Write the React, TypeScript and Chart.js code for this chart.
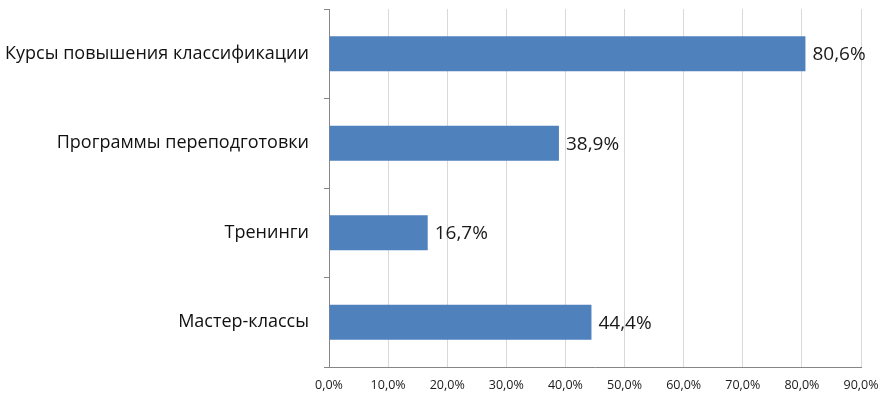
import React, { useEffect, useRef } from "react";
import { Chart, registerables } from "chart.js";

Chart.register(...registerables);

const categories = [
  "Курсы повышения классификации",
  "Программы переподготовки",
  "Тренинги",
  "Мастер-классы",
];
const values = [80.6, 38.9, 16.7, 44.4];
const xTicks = [0, 10, 20, 30, 40, 50, 60, 70, 80, 90];

const fmt = (v: number) => v.toFixed(1).replace(".", ",") + "%";

const FONT = "'Open Sans', 'Noto Sans', sans-serif";

const labelPlugin = {
  id: "barValueLabels",
  afterDatasetsDraw(chart: any) {
    const ctx = chart.ctx;
    const meta = chart.getDatasetMeta(0);
    ctx.save();
    ctx.font = `19px ${FONT}`;
    ctx.fillStyle = "#1a1a1a";
    ctx.textAlign = "left";
    ctx.textBaseline = "middle";
    meta.data.forEach((bar: any, i: number) => {
      ctx.fillText(fmt(values[i]), bar.x + 7, bar.y + 1);
    });
    ctx.restore();
  },
};

export default function App() {
  const ref = useRef<HTMLCanvasElement>(null);
  useEffect(() => {
    document.body.style.margin = "0";
    const chart = new Chart(ref.current!, {
      type: "bar",
      data: {
        labels: categories,
        datasets: [
          {
            data: values,
            backgroundColor: "#4F81BD",
            borderWidth: 0,
            barPercentage: 0.39,
            categoryPercentage: 1,
          },
        ],
      },
      options: {
        indexAxis: "y",
        animation: false,
        responsive: false,
        maintainAspectRatio: false,
        layout: { padding: { top: 9, right: 25, left: 0, bottom: 0 } },
        plugins: { legend: { display: false }, tooltip: { enabled: false } },
        scales: {
          x: {
            min: 0,
            max: 90,
            afterBuildTicks: (scale: any) => {
              scale.ticks = xTicks.map((v) => ({ value: v }));
            },
            afterFit: (scale: any) => {
              scale.height = 36;
              scale.paddingLeft = 0;
              scale.paddingRight = 0;
            },
            grid: {
              color: "#D9D9D9",
              lineWidth: 1,
              drawTicks: false,
            },
            border: { display: true, color: "#868686", width: 1 },
            ticks: {
              padding: 11,
              color: "#1a1a1a",
              font: { family: FONT, size: 12.5 },
              callback: (v: any) => fmt(Number(v)),
              maxRotation: 0,
            },
          },
          y: {
            afterFit: (scale: any) => {
              scale.width = 329;
              scale.paddingTop = 0;
              scale.paddingBottom = 0;
            },
            grid: {
              drawOnChartArea: false,
              drawTicks: true,
              tickLength: 5,
              color: "#868686",
              offset: true,
            },
            border: { display: true, color: "#868686", width: 1 },
            ticks: {
              padding: 15,
              color: "#111111",
              font: { family: FONT, size: 18 },
            },
          },
        },
      },
      plugins: [labelPlugin],
    });
    return () => chart.destroy();
  }, []);
  return (
    <div style={{ width: 886, height: 403, background: "#fff" }}>
      <canvas ref={ref} width={886} height={403} style={{ display: "block" }} />
    </div>
  );
}
